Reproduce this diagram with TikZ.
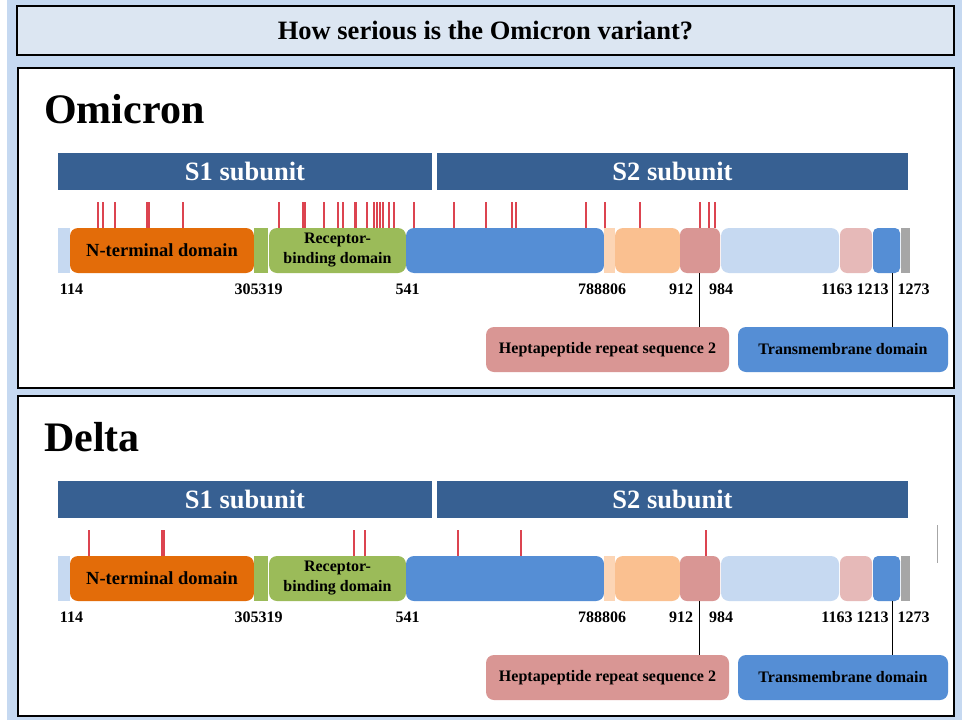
\documentclass[tikz,border=0pt]{standalone}
\usepackage{fontspec}
\setmainfont{Liberation Serif}
\usetikzlibrary{calc}

\definecolor{bgblue}{HTML}{C6D9F1}
\definecolor{headfill}{HTML}{DCE6F2}
\definecolor{sblue}{HTML}{376092}
\definecolor{nterm}{HTML}{E36C09}
\definecolor{rbdgreen}{HTML}{9BBB59}
\definecolor{dblue}{HTML}{558ED5}
\definecolor{lblue}{HTML}{C6D9F1}
\definecolor{lpeach}{HTML}{FCD5B5}
\definecolor{peach}{HTML}{FAC090}
\definecolor{hrpink}{HTML}{D99694}
\definecolor{lpink}{HTML}{E6B9B8}
\definecolor{tmgray}{HTML}{A6A6A6}
\definecolor{mutred}{HTML}{DC4450}

\begin{document}
\begin{tikzpicture}[x=1pt,y=-1pt,
  heading/.style={draw=black,line width=2.2pt,fill=headfill,minimum width=937pt,minimum height=49pt,
    font=\bfseries\fontsize{26.5}{26.5}\selectfont},
  panel/.style={draw=black,line width=2.2pt,fill=white},
  variant/.style={anchor=base west,inner sep=0pt,font=\bfseries\fontsize{42}{42}\selectfont},
  sbar/.style={fill=sblue,text=white,minimum height=37pt,inner sep=0pt,
    font=\bfseries\fontsize{26.5}{26.5}\selectfont},
  seg/.style={minimum height=45pt,inner sep=0pt,align=center,
    font=\bfseries\fontsize{16}{20}\selectfont},
  num/.style={inner sep=0pt,font=\bfseries\fontsize{16}{16}\selectfont},
  tag/.style={rounded corners=8pt,minimum height=45pt,inner sep=0pt,
    font=\bfseries\fontsize{16}{16}\selectfont},
  mut/.style={draw=mutred}]

  \useasboundingbox (0,0) rectangle (964,720);
  \fill[white] (0,0) rectangle (964,720);
  \fill[bgblue] (7,0) rectangle (962,720);

  \node[heading] (head) at (485.5,30.5) {How serious is the Omicron variant?};

  \foreach \p/\title/\dy/\muts in {
      o/Omicron/0/{98/1.6,103/2,115/1.6,148/4.5,183/1.6,279/1.6,304/3.5,324/2,338/1.6,343/1.6,355/3,
        367/1.6,374/1.6,377/1.6,380/1.6,383/1.6,389/1.6,394/1.6,414/1.6,454/1.6,486/1.6,512/1.6,516/1.6,
        586/1.6,605/1.6,640/1.6,700/1.6,709/1.6,715/1.6},
      d/Delta/328/{89/1.6,163/4.5,354/2.2,365/2.2,458/1.6,521/1.6,706/1.6}} {
  \begin{scope}[yshift=-\dy pt]
    \draw[panel] (18,68) rectangle (954,388);
    \node[variant] (name\p) at (44,123) {\title};

    \node[sbar,minimum width=374pt] (sa\p) at (245,171.5) {S1 subunit};
    \node[sbar,minimum width=471pt] (sb\p) at (672.5,171.5) {S2 subunit};

    % mutation sites
    \foreach \m/\w in \muts
      \draw[mut,line width=\w pt] (\m,202) -- (\m,228);

    % domains
    \foreach \a/\b/\c/\r/\n/\t in {58/70/lblue/0/a/{},
        70/254/nterm/8/nt/{\fontsize{18.5}{18.5}\selectfont N-terminal domain},
        254/268/rbdgreen/0/b/{}, 269/406/rbdgreen/8/rbd/{Receptor-\\binding domain},
        406/604/dblue/8/c/{}, 604/615/lpeach/0/d/{}, 615/680/peach/8/e/{},
        680/720/hrpink/7/hr/{}, 721/839/lblue/8/f/{}, 840/872/lpink/7/g/{},
        873/900/dblue/5/tm/{}, 901/910/tmgray/0/h/{}}
      \node[seg,fill=\c,rounded corners=\r pt,minimum width={(\b-\a)*1pt}] (\n\p)
        at ({(\a+\b)/2},250.5) {\t};

    \foreach \x/\v/\n in {71.5/114/na, 258.5/305319/nb, 407.5/541/nc, 602/788806/nd,
        681/912/ne, 721/984/nf, 855/1163 1213/ng, 913.5/1273/nh}
      \node[num] (\n\p) at (\x,289.5) {\v};

    \node[tag,fill=hrpink,minimum width=243pt] (hrbox\p) at (607.5,349.5) {Heptapeptide repeat sequence 2};
    \node[tag,fill=dblue,minimum width=210pt] (tmbox\p) at (843,349.5) {Transmembrane domain};

    \draw[line width=1pt] ([xshift=-1pt]hr\p.south) -- ([xshift=-1pt]hr\p.south |- hrbox\p.north);
    \draw[line width=1pt] ([xshift=6pt]tm\p.south) -- ([xshift=6pt]tm\p.south |- tmbox\p.north);
  \end{scope}
  }

  \draw[gray!70,line width=1pt] (937,525) -- (937,563);
\end{tikzpicture}
\end{document}
